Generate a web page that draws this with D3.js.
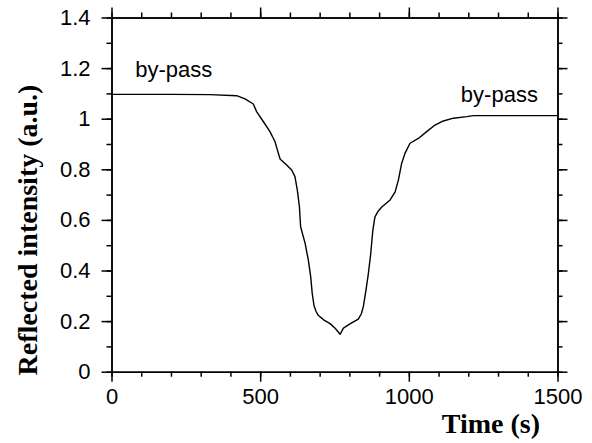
<!DOCTYPE html>
<html>
<head>
<meta charset="utf-8">
<script src="https://cdn.jsdelivr.net/npm/d3@7"></script>
<style>
  body { margin: 0; background: #fff; }
  svg { display: block; }
  .tick text { font-family: "Liberation Sans", Arial, sans-serif; font-size: 22px; fill: #000; }
</style>
</head>
<body>
<script>
// DATA
var timeS = [0, 100, 200, 331, 421, 449, 477, 488, 511, 533, 550, 558, 567, 589, 606, 617, 625, 632,
  636, 651, 662, 670, 675, 681, 688, 696, 715, 735, 752, 769, 780, 802, 830, 840, 847, 856, 864, 872, 879, 886,
  896, 909, 937, 954, 965, 976, 987, 1004, 1032, 1060, 1088, 1116, 1150, 1195, 1217, 1300, 1400, 1500];
var intensity = [1.096, 1.096, 1.096, 1.095, 1.091, 1.078, 1.058, 1.028, 0.988, 0.949, 0.909, 0.876, 0.841, 0.817, 0.797, 0.771, 0.718, 0.652,
  0.573, 0.508, 0.441, 0.375, 0.31, 0.262, 0.238, 0.222, 0.204, 0.19, 0.172, 0.148, 0.172, 0.189, 0.208, 0.228, 0.257, 0.323, 0.389, 0.468, 0.56, 0.612,
  0.633, 0.651, 0.679, 0.711, 0.758, 0.824, 0.863, 0.903, 0.922, 0.949, 0.975, 0.991, 1.002, 1.008, 1.012, 1.012, 1.012, 1.012];
var xTicks = [0, 500, 1000, 1500];
var yTicks = [0, 0.2, 0.4, 0.6, 0.8, 1, 1.2, 1.4];
var labels = [
  { text: "by-pass", t: 80, v: 1.165 },
  { text: "by-pass", t: 1175, v: 1.065 }
];

// dimensions
var width = 592, height = 443;
var margin = { top: 17.5, right: 34.5, bottom: 71.3, left: 111.5 };
var w = width - margin.left - margin.right,
  h = height - margin.top - margin.bottom;

var svg = d3.select("body").append("svg")
  .attr("width", width)
  .attr("height", height);

var g = svg.append("g")
  .attr("transform", "translate(" + margin.left + "," + margin.top + ")");

var x = d3.scaleLinear().domain([0, 1500]).range([0, w]);
var y = d3.scaleLinear().domain([0, 1.4]).range([h, 0]);

var fmt = function (d) { return String(+d.toFixed(1)); };
var xMinor = d3.range(0, 1501, 100);
var yMinor = d3.range(0, 15).map(function (i) { return i / 10; });

function drawAxis(axis, transform) {
  var a = g.append("g").attr("transform", transform).call(axis);
  a.select(".domain").attr("stroke", "#000").attr("stroke-width", 1.5);
  a.selectAll(".tick line").attr("stroke", "#000").attr("stroke-width", 1.5);
  return a;
}

// minor ticks (all four sides, outward)
drawAxis(d3.axisBottom(x).tickValues(xMinor).tickSize(5).tickSizeOuter(0).tickFormat(""), "translate(0," + h + ")");
drawAxis(d3.axisTop(x).tickValues(xMinor).tickSize(5).tickSizeOuter(0).tickFormat(""), "translate(0,0)");
drawAxis(d3.axisLeft(y).tickValues(yMinor).tickSize(5).tickSizeOuter(0).tickFormat(""), "translate(0,0)");
drawAxis(d3.axisRight(y).tickValues(yMinor).tickSize(5).tickSizeOuter(0).tickFormat(""), "translate(" + w + ",0)");

// major ticks
drawAxis(d3.axisBottom(x).tickValues(xTicks).tickSize(10).tickSizeOuter(0).tickPadding(7).tickFormat(fmt), "translate(0," + h + ")");
drawAxis(d3.axisTop(x).tickValues(xTicks).tickSize(10).tickSizeOuter(0).tickFormat(""), "translate(0,0)");
drawAxis(d3.axisLeft(y).tickValues(yTicks).tickSize(10).tickSizeOuter(0).tickPadding(11).tickFormat(fmt), "translate(0,0)");
drawAxis(d3.axisRight(y).tickValues(yTicks).tickSize(10).tickSizeOuter(0).tickFormat(""), "translate(" + w + ",0)");

// line
var pts = timeS.map(function (t, i) { return [t, intensity[i]]; });
var line = d3.line()
  .x(function (d) { return x(d[0]); })
  .y(function (d) { return y(d[1]); });

g.append("path")
  .datum(pts)
  .attr("fill", "none")
  .attr("stroke", "#000")
  .attr("stroke-width", 1.4)
  .attr("stroke-linejoin", "round")
  .attr("d", line);

// annotations
g.selectAll("text.anno")
  .data(labels)
  .enter().append("text")
  .attr("class", "anno")
  .attr("x", function (d) { return x(d.t); })
  .attr("y", function (d) { return y(d.v); })
  .attr("font-family", "Liberation Sans, Arial, sans-serif")
  .attr("font-size", 22)
  .text(function (d) { return d.text; });

// axis titles
svg.append("text")
  .attr("x", 540)
  .attr("y", 433)
  .attr("text-anchor", "end")
  .attr("font-family", "Liberation Serif, Times New Roman, serif")
  .attr("font-weight", "bold")
  .attr("font-size", 28)
  .text("Time (s)");

svg.append("text")
  .attr("transform", "translate(37," + 230 + ") rotate(-90)")
  .attr("text-anchor", "middle")
  .attr("font-family", "Liberation Serif, Times New Roman, serif")
  .attr("font-weight", "bold")
  .attr("font-size", 28)
  .text("Reflected intensity (a.u.)");
</script>
</body>
</html>
